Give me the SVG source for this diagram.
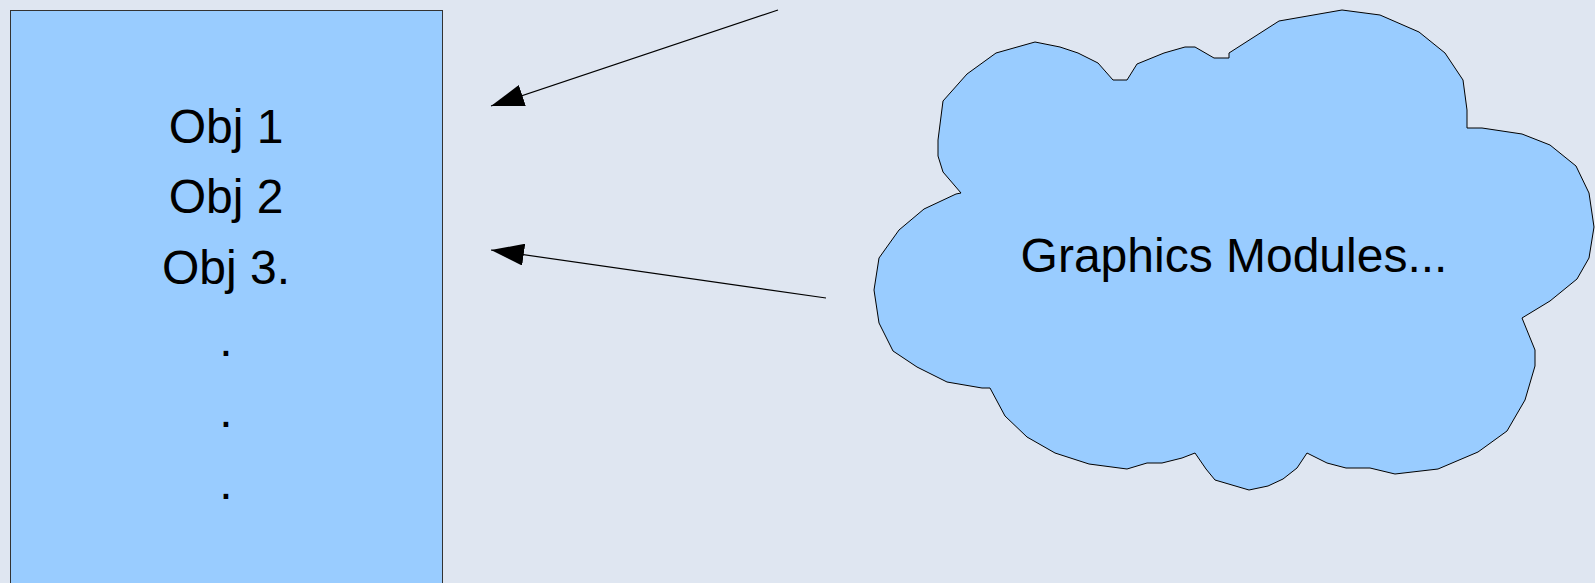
<svg xmlns="http://www.w3.org/2000/svg" width="1595" height="583" viewBox="0 0 1595 583">
  <style>
    .bg { fill: #dfe6f1; }
    .shape { fill: #99ccff; stroke-width: 1; stroke-linejoin: miter; }
    .label { font-family: "Liberation Sans", Arial, sans-serif; font-size: 48px; fill: #000000; text-anchor: middle; }
    .link { stroke: #000000; stroke-width: 1.2; fill: none; }
  </style>
  <defs>
    <marker id="arrowhead" markerUnits="userSpaceOnUse" markerWidth="34" markerHeight="22" refX="33" refY="11" orient="auto">
      <path d="M0,0 L33,11 L0,22 Z" fill="#000000"/>
    </marker>
  </defs>

  <rect class="bg" x="0" y="0" width="1595" height="583"/>

  <!-- object list panel -->
  <g id="object-list">
    <rect class="shape" x="10.5" y="10.5" width="432" height="600" stroke="#333333"/>
    <text class="label" x="226" y="143">Obj 1</text>
    <text class="label" x="226" y="213">Obj 2</text>
    <text class="label" x="226" y="284">Obj 3.</text>
    <text class="label" x="226" y="356">.</text>
    <text class="label" x="226" y="427">.</text>
    <text class="label" x="226" y="499">.</text>
  </g>

  <!-- cloud of graphics modules -->
  <g id="graphics-modules">
    <polygon class="shape" stroke="#000000" points="879,258 899,230 924,209 956,194 961,193 943,172 938,156 938,140 943,101 967,74 996,53 1035,42 1060,47 1078,53 1098,63 1113,80 1127,80 1137,64 1164,53 1185,47 1195,47 1214,58 1229,58 1229,53 1279,21 1342,10 1380,15 1419,32 1445,53 1463,80 1467,110 1467,128 1482,128 1522,134 1550,145 1576,166 1589,193 1594,227 1589,258 1577,279 1550,301 1522,318 1535,350 1535,366 1525,400 1507,431 1478,452 1438,469 1395,474 1370,468 1346,468 1327,463 1307,453 1297,468 1283,479 1268,486 1249,490 1215,480 1206,469 1195,453 1182,458 1162,463 1147,463 1127,469 1089,464 1055,453 1027,437 1005,416 990,388 982,388 947,382 917,367 893,351 879,323 874,290"/>
    <text class="label" x="1234" y="272">Graphics Modules...</text>
  </g>

  <!-- connectors -->
  <g id="connectors">
    <line class="link" x1="778" y1="10" x2="491" y2="106" marker-end="url(#arrowhead)"/>
    <line class="link" x1="826" y1="298" x2="491" y2="250" marker-end="url(#arrowhead)"/>
  </g>
</svg>
